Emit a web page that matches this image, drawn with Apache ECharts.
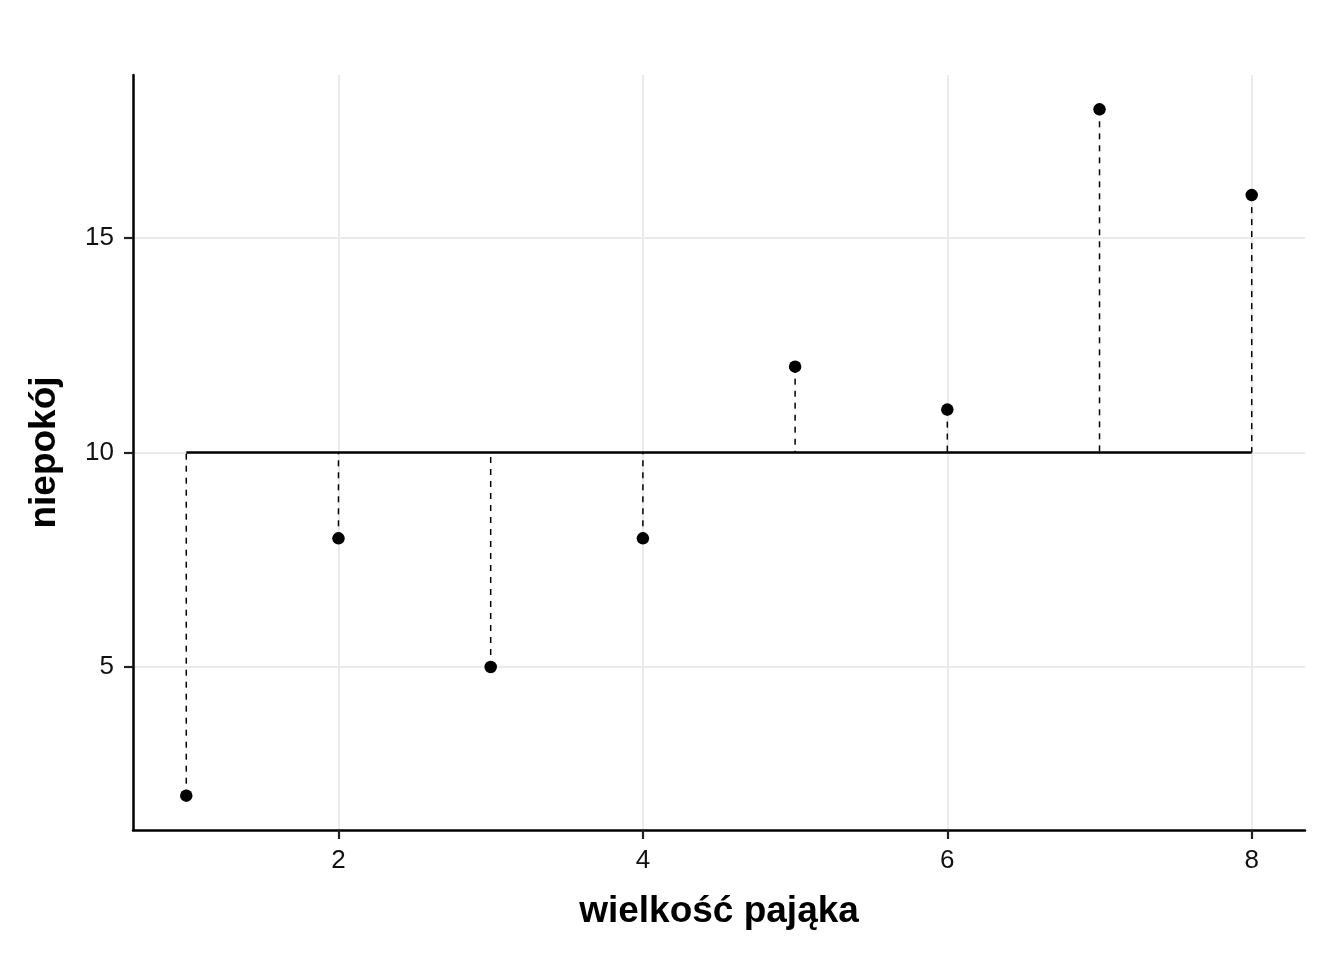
<!DOCTYPE html>
<html>
<head>
<meta charset="utf-8">
<script src="https://cdn.jsdelivr.net/npm/echarts@6/dist/echarts.min.js"></script>
<style>
  html, body { margin: 0; padding: 0; background: #fff; }
  #main { width: 1344px; height: 960px; }
</style>
</head>
<body>
<div id="main"></div>
<script>
// dane: wielkość pająka vs niepokój
const sizes = [1, 2, 3, 4, 5, 6, 7, 8];
const anxiety = [2, 8, 5, 8, 12, 11, 18, 16];
const xTicks = [2, 4, 6, 8];
const yTicks = [5, 10, 15];

const mean = anxiety.reduce((a, b) => a + b, 0) / anxiety.length;
const points = sizes.map((s, i) => [s, anxiety[i]]);

var myChart = echarts.init(document.getElementById('main'));
var option = {
    animation: false,
    textStyle: { fontFamily: 'Liberation Sans' },
    grid: { left: 133, right: 39, top: 75, bottom: 130 },
    xAxis: {
        type: 'value',
        min: 0.65,
        max: 8.35,
        name: 'wielkość pająka',
        nameLocation: 'middle',
        nameGap: 63,
        nameTextStyle: { fontSize: 37, fontWeight: 'bold', color: '#000' },
        axisLine: { show: true, onZero: false, lineStyle: { color: '#000', width: 2.5 } },
        axisTick: { show: true, customValues: xTicks, length: 9, lineStyle: { color: '#222', width: 2.2 } },
        axisLabel: { customValues: xTicks, fontSize: 26, color: '#111', margin: 18 },
        splitLine: { show: true, lineStyle: { color: '#ebebeb', width: 2 } }
    },
    yAxis: {
        type: 'value',
        min: 1.2,
        max: 18.8,
        name: 'niepokój',
        nameLocation: 'middle',
        nameGap: 70,
        nameRotate: 90,
        nameTextStyle: { fontSize: 37, fontWeight: 'bold', color: '#000' },
        axisLine: { show: true, onZero: false, lineStyle: { color: '#000', width: 2.5 } },
        axisTick: { show: true, customValues: yTicks, length: 9, lineStyle: { color: '#222', width: 2.2 } },
        axisLabel: { customValues: yTicks, fontSize: 26, color: '#111', margin: 19 },
        splitLine: { show: true, lineStyle: { color: '#ebebeb', width: 2 } }
    },
    series: [
        {
            // odcinki od punktu do średniej
            type: 'custom',
            silent: true,
            data: points,
            renderItem: function (params, api) {
                const p1 = api.coord([api.value(0), api.value(1)]);
                const p2 = api.coord([api.value(0), mean]);
                return {
                    type: 'line',
                    shape: { x1: p1[0], y1: p1[1], x2: p2[0], y2: p2[1] },
                    style: { stroke: '#000', lineWidth: 1.5, lineDash: [6, 6] }
                };
            },
            z: 2
        },
        {
            // linia średniej
            type: 'line',
            data: [[sizes[0], mean], [sizes[sizes.length - 1], mean]],
            symbol: 'none',
            lineStyle: { color: '#000', width: 2.4 },
            silent: true,
            z: 3
        },
        {
            type: 'scatter',
            data: points,
            symbolSize: 12.5,
            itemStyle: { color: '#000', opacity: 1 },
            z: 4
        }
    ]
};
myChart.setOption(option);
</script>
</body>
</html>
